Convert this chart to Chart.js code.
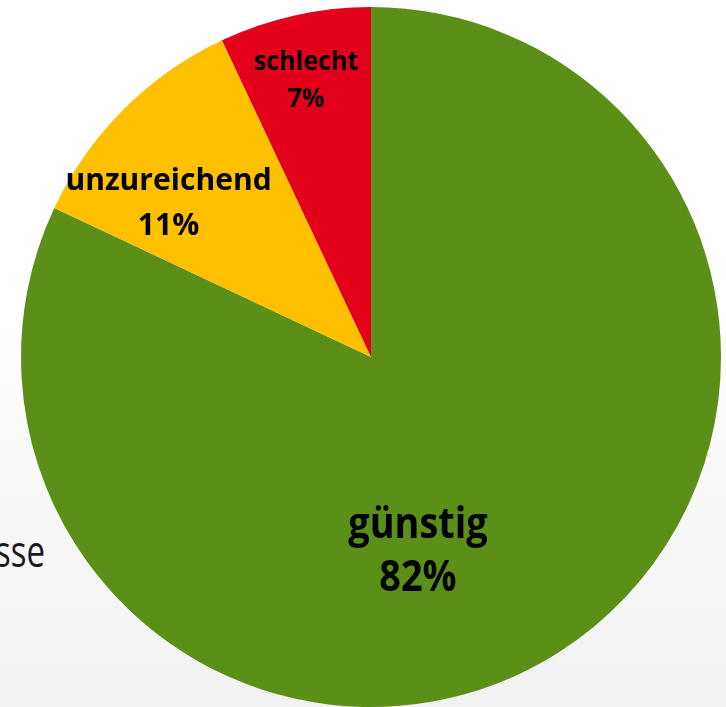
<!DOCTYPE html>
<html>
<head>
<meta charset="utf-8">
<script src="https://cdn.jsdelivr.net/npm/chart.js@4/dist/chart.umd.min.js"></script>
<style>
  html, body { margin: 0; padding: 0; }
  body {
    width: 726px; height: 707px; overflow: hidden; position: relative;
    background: linear-gradient(to bottom, #ffffff 0%, #ffffff 45%, #f1f1f1 100%);
  }
  #bgtext {
    position: absolute; right: 681px; top: 539px; white-space: nowrap;
    font-family: "Open Sans", sans-serif; font-size: 33px; line-height: 33px; color: #1a1a1a;
    transform: scaleY(1.35); transform-origin: bottom;
  }
  #wrap { position: absolute; left: 0; top: 0; width: 726px; height: 707px; }
</style>
</head>
<body>
<div id="bgtext">sse</div>
<div id="wrap"><canvas id="myChart"></canvas></div>
<script>
const labels = ['günstig', 'unzureichend', 'schlecht']
const values = [82, 11, 7]
const colors = ['#5b8f17', '#ffc000', '#e2001a']

// where each label sits inside its slice: fraction along the arc, fraction of radius
const labelAngle = [0.564, 0.30, 0.476]
const labelRadius = [0.574, 0.725, 0.81]
const labelSize = [43, 31, 27]
const labelSqueeze = [0.88, 0.97, 0.93]
const lineGap = [53, 45, 37]

const pieLabels = {
  id: 'pieLabels',
  afterDatasetsDraw(chart) {
    const ctx = chart.ctx
    const meta = chart.getDatasetMeta(0)
    const total = values.reduce((a, b) => a + b, 0)
    meta.data.forEach((arc, i) => {
      const p = arc.getProps(['x', 'y', 'startAngle', 'endAngle', 'outerRadius'], true)
      const a = p.startAngle + (p.endAngle - p.startAngle) * labelAngle[i]
      const r = p.outerRadius * labelRadius[i]
      const x = p.x + Math.cos(a) * r
      const y = p.y + Math.sin(a) * r
      ctx.save()
      ctx.translate(x, y)
      ctx.scale(labelSqueeze[i], 1)
      ctx.fillStyle = '#000'
      ctx.textAlign = 'center'
      ctx.textBaseline = 'middle'
      ctx.font = 'bold ' + labelSize[i] + 'px "Open Sans", sans-serif'
      const gap = lineGap[i] / 2
      ctx.fillText(labels[i], 0, -gap)
      ctx.fillText(Math.round(values[i] / total * 100) + '%', 0, gap)
      ctx.restore()
    })
  }
}

const ctx = document.getElementById('myChart')

new Chart(ctx, {
  type: 'pie',
  data: {
    labels: labels,
    datasets: [{
      data: values,
      backgroundColor: colors,
      borderWidth: 0
    }]
  },
  options: {
    responsive: true,
    maintainAspectRatio: false,
    animation: false,
    layout: { padding: { left: 21, right: 5, top: 7, bottom: 0 } },
    plugins: {
      legend: { display: false },
      tooltip: { enabled: false }
    }
  },
  plugins: [pieLabels]
})
</script>
</body>
</html>
